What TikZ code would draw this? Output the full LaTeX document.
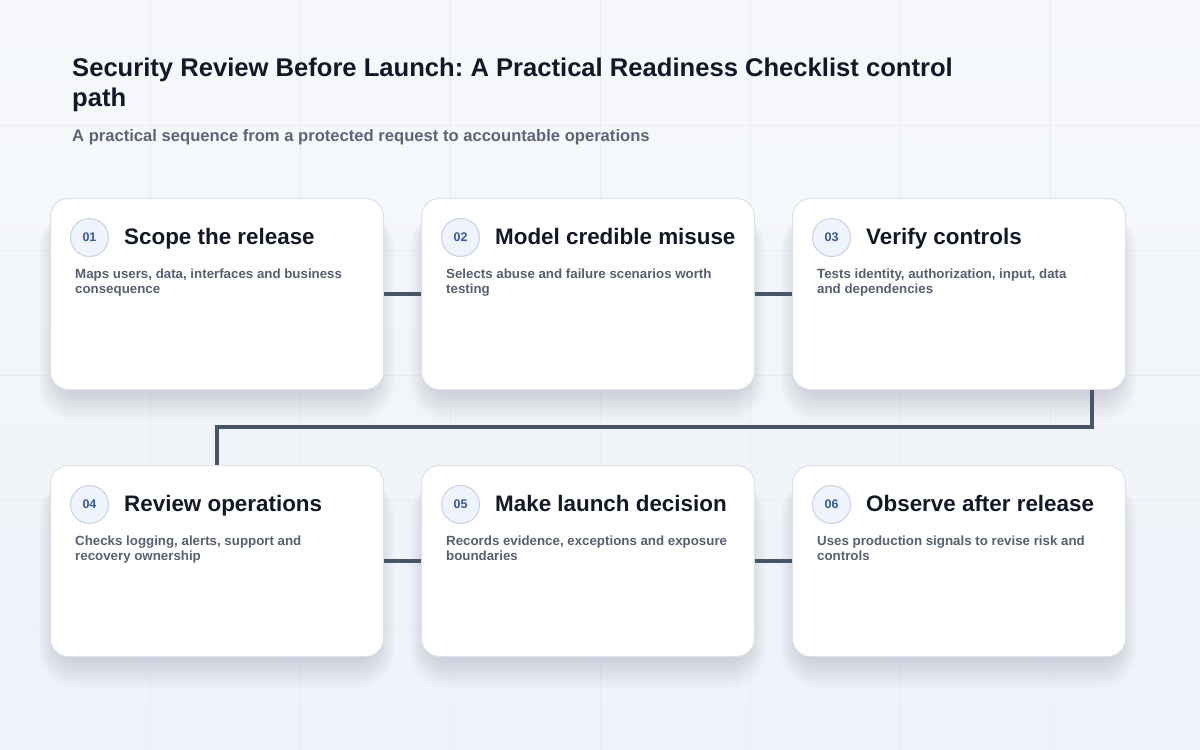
\documentclass[tikz,border=0pt]{standalone}
\usepackage{fontspec}
\setmainfont{Liberation Sans}
\usetikzlibrary{calc}
\frenchspacing
\definecolor{bgA}{HTML}{F6F8FB}
\definecolor{bgB}{HTML}{EEF3FA}
\definecolor{gridc}{HTML}{EAEEF4}
\definecolor{titlec}{HTML}{111827}
\definecolor{subc}{HTML}{5B6577}
\definecolor{descc}{HTML}{566073}
\definecolor{linec}{HTML}{475569}
\definecolor{badgefill}{HTML}{EEF3FC}
\definecolor{badgedraw}{HTML}{C5D2EA}
\definecolor{badgetext}{HTML}{3457A6}
\definecolor{cardborder}{HTML}{DCE2EB}
\definecolor{shadowc}{HTML}{3B4A66}
\tikzset{
  cardbox/.style={draw=cardborder, line width=1pt, fill=white, rounded corners=18pt,
    minimum width=333pt, minimum height=191pt, anchor=north west, inner sep=0pt},
  badge/.style={circle, draw=badgedraw, line width=1pt, fill=badgefill, minimum size=38pt,
    inner sep=0pt, text=badgetext, font=\bfseries\fontsize{12.5}{14}\selectfont},
  cardtitle/.style={anchor=base west, inner sep=0pt, text=titlec, font=\bfseries\fontsize{22.4}{26}\selectfont},
  carddesc/.style={anchor=base west, inner sep=0pt, text=descc, font=\bfseries\fontsize{13.3}{15}\selectfont},
  conn/.style={draw=linec, line width=3.5pt},
}
\newcommand\stepcard[7]{%
  \foreach \r in {1,...,18}{%
    \fill[shadowc, opacity=0.0075, rounded corners=20pt+\r pt]
      ($(#2,#3)+(8-\r*1.1,24-\r*0.6)$) rectangle ($(#2,#3)+(325+\r*1.1,191+2+\r*1.7)$);
  }
  \node[cardbox] (#1) at (#2,#3) {};
  \node[badge] (#1b) at ($(#2,#3)+(39.5,39.5)$) {#4};
  \node[cardtitle] (#1t) at ($(#2,#3)+(74,46.5)$) {#5};
  \node[carddesc] (#1d1) at ($(#2,#3)+(25,80)$) {#6};
  \node[carddesc] (#1d2) at ($(#2,#3)+(25,95)$) {#7};
}
\begin{document}
\begin{tikzpicture}[x=1pt,y=-1pt]
\useasboundingbox (0,0) rectangle (1200,750);
\shade[top color=bgA, bottom color=bgB] (0,0) rectangle (1200,750);
\foreach \gx in {150,300,...,1050} \draw[gridc, line width=0.8pt] (\gx,0) -- (\gx,750);
\foreach \gy in {125,250,...,625} \draw[gridc, line width=0.8pt] (0,\gy) -- (1200,\gy);

\node[anchor=base west, inner sep=0pt, text=titlec, align=left,
  font=\bfseries\fontsize{25.6}{30}\selectfont] (title) at (72,106)
  {Security Review Before Launch: A Practical Readiness Checklist control\\path};
\node[anchor=base west, inner sep=0pt, text=subc,
  font=\bfseries\fontsize{16.6}{19}\selectfont] (subtitle) at (72,141)
  {A practical sequence from a protected request to accountable operations};

\stepcard{c1}{50}{198}{01}{Scope the release}{Maps users, data, interfaces and business}{consequence}
\stepcard{c2}{421}{198}{02}{Model credible misuse}{Selects abuse and failure scenarios worth}{testing}
\stepcard{c3}{792}{198}{03}{Verify controls}{Tests identity, authorization, input, data}{and dependencies}
\stepcard{c4}{50}{465}{04}{Review operations}{Checks logging, alerts, support and}{recovery ownership}
\stepcard{c5}{421}{465}{05}{Make launch decision}{Records evidence, exceptions and exposure}{boundaries}
\stepcard{c6}{792}{465}{06}{Observe after release}{Uses production signals to revise risk and}{controls}

\draw[conn] (c1.east) -- (c2.west);
\draw[conn] (c2.east) -- (c3.west);
\draw[conn] (c4.east) -- (c5.west);
\draw[conn] (c5.east) -- (c6.west);
\coordinate (k1) at ($(c3.south west)+(300,0)$);
\coordinate (k2) at (c4.north);
\draw[conn] (k1) -- (k1 |- 0,427) -- (k2 |- 0,427) -- (k2);
\end{tikzpicture}
\end{document}
